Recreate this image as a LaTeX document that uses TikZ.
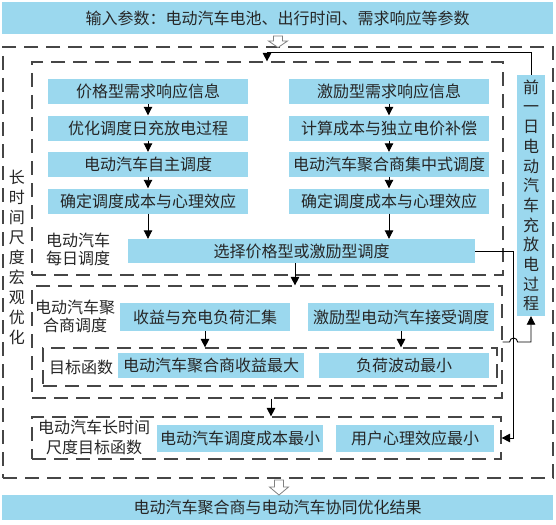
\documentclass[tikz,border=0pt]{standalone}
\usepackage{fontspec}
\newfontfamily\cjk{Noto Sans CJK SC}
\usetikzlibrary{arrows.meta}
\definecolor{ebblue}{RGB}{155,216,238}
\definecolor{dashgray}{RGB}{70,70,70}
\begin{document}
\begin{tikzpicture}[x=1pt,y=-1pt,
  bx/.style={fill=ebblue, inner sep=0pt, font=\cjk\fontsize{16}{18}\selectfont, text=black!85},
  lbl/.style={inner sep=0pt, font=\cjk\fontsize{16}{20}\selectfont, align=center, text=black!85},
  dbox/.style={draw=dashgray, line width=1.2pt, dash pattern=on 14pt off 8pt, inner sep=0pt},
  arr/.style={draw=black, line width=0.9pt, -{Triangle[length=8.5pt,width=8.5pt]}},
  hollow/.style={draw=gray, fill=white, line width=0.8pt}]
\useasboundingbox (0,0) rectangle (556,524);
\fill[white] (0,0) rectangle (556,524);

% bars
\node[bx, minimum width=551pt, minimum height=32pt] (top) at (277.5,18) {输入参数：电动汽车电池、出行时间、需求响应等参数};
\node[bx, minimum width=551pt, minimum height=25pt] (bot) at (277.5,507.5) {电动汽车聚合商与电动汽车协同优化结果};

% dashed frames
\node[dbox, minimum width=550pt, minimum height=431pt] (outer) at (278,262.5) {};
\node[dbox, minimum width=471pt, minimum height=213pt] (d1) at (267.5,168.5) {};
\node[dbox, minimum width=470pt, minimum height=112pt] (d2) at (267,342) {};
\node[dbox, minimum width=454pt, minimum height=38pt] (dd) at (270,367) {};
\node[dbox, minimum width=469pt, minimum height=42pt] (d3) at (266.5,438) {};

% labels
\node[lbl, font=\cjk\fontsize{16}{20.1}\selectfont] (lt) at (17,257.5) {长\\时\\间\\尺\\度\\宏\\观\\优\\化};
\node[lbl, font=\cjk\fontsize{16}{18}\selectfont] (ld1) at (78,249) {电动汽车\\每日调度};
\node[lbl, font=\cjk\fontsize{16}{18}\selectfont] (ld2) at (75,316) {电动汽车聚\\合商调度};
\node[lbl] (ldd) at (81,367) {目标函数};
\node[lbl] (ld3) at (94,437) {电动汽车长时间\\尺度目标函数};

% left chain
\node[bx, minimum width=200pt, minimum height=25pt] (p1) at (148,91.5) {价格型需求响应信息};
\node[bx, minimum width=200pt, minimum height=25pt] (p2) at (148,128) {优化调度日充放电过程};
\node[bx, minimum width=200pt, minimum height=25pt] (p3) at (148,164.5) {电动汽车自主调度};
\node[bx, minimum width=200pt, minimum height=25pt] (p4) at (148,201) {确定调度成本与心理效应};
% right chain
\node[bx, minimum width=200pt, minimum height=25pt] (i1) at (389,91.5) {激励型需求响应信息};
\node[bx, minimum width=200pt, minimum height=25pt] (i2) at (389,128) {计算成本与独立电价补偿};
\node[bx, minimum width=200pt, minimum height=25pt] (i3) at (389,164.5) {电动汽车聚合商集中式调度};
\node[bx, minimum width=200pt, minimum height=25pt] (i4) at (389,201) {确定调度成本与心理效应};

\node[bx, minimum width=347pt, minimum height=24pt] (sel) at (301.5,251) {选择价格型或激励型调度};

\node[bx, minimum width=170pt, minimum height=28pt] (a1) at (205,317) {收益与充电负荷汇集};
\node[bx, minimum width=186pt, minimum height=28pt] (a2) at (401,317) {激励型电动汽车接受调度};
\node[bx, minimum width=186pt, minimum height=25pt] (o1) at (211,365.5) {电动汽车聚合商收益最大};
\node[bx, minimum width=170pt, minimum height=25pt] (o2) at (404,365.5) {负荷波动最小};

\node[bx, minimum width=166pt, minimum height=27pt] (l1) at (240,438.5) {电动汽车调度成本最小};
\node[bx, minimum width=158pt, minimum height=27pt] (l2) at (415,438.5) {用户心理效应最小};

\node[bx, minimum width=28pt, minimum height=241pt, align=center, font=\cjk\fontsize{16}{19.7}\selectfont] (prev) at (531,195.5) {前\\一\\日\\电\\动\\汽\\车\\充\\放\\电\\过\\程};

% coordinates
\coordinate (m1) at (267,0);
\coordinate (m2) at (295,0);
\coordinate (m3) at (271,0);
\coordinate (m4) at (513,0);

% chain arrows
\draw[arr] (p1.south) -- (p2.north);
\draw[arr] (p2.south) -- (p3.north);
\draw[arr] (p3.south) -- (p4.north);
\draw[arr] (p4.south) -- (p4.south |- sel.north);
\draw[arr] (i1.south) -- (i2.north);
\draw[arr] (i2.south) -- (i3.north);
\draw[arr] (i3.south) -- (i4.north);
\draw[arr] (i4.south) -- (i4.south |- sel.north);
\draw[arr] (m2 |- sel.south) -- (m2 |- d2.north);
\draw[arr] (a1.south) -- (a1.south |- dd.north);
\draw[arr] (a2.south) -- (a2.south |- dd.north);
\draw[arr] (m3 |- d2.south) -- (m3 |- d3.north);

% feedback connectors
\draw[arr] (prev.north) -- ++(0,-22) -| (m1 |- d1.north);
\draw[arr] (sel.east) -- (m4 |- sel.east) -- (m4 |- d3.east) -- (d3.east);
\draw[arr] (d2.east) -- ++(7,0) arc[start angle=180, end angle=360, radius=4] -- (prev.south |- d2.east) -- (prev.south);

% hollow block arrows
\coordinate (ha) at (278,36);
\draw[hollow] (ha) ++(-4.5,0) -- ++(9,0) -- ++(0,5) -- ++(5,0) -- ++(-9.5,6.5) -- ++(-9.5,-6.5) -- ++(5,0) -- cycle;
\coordinate (hb) at (279,480);
\draw[hollow] (hb) ++(-4.5,0) -- ++(9,0) -- ++(0,7) -- ++(5,0) -- ++(-9.5,8) -- ++(-9.5,-8) -- ++(5,0) -- cycle;
\end{tikzpicture}
\end{document}
